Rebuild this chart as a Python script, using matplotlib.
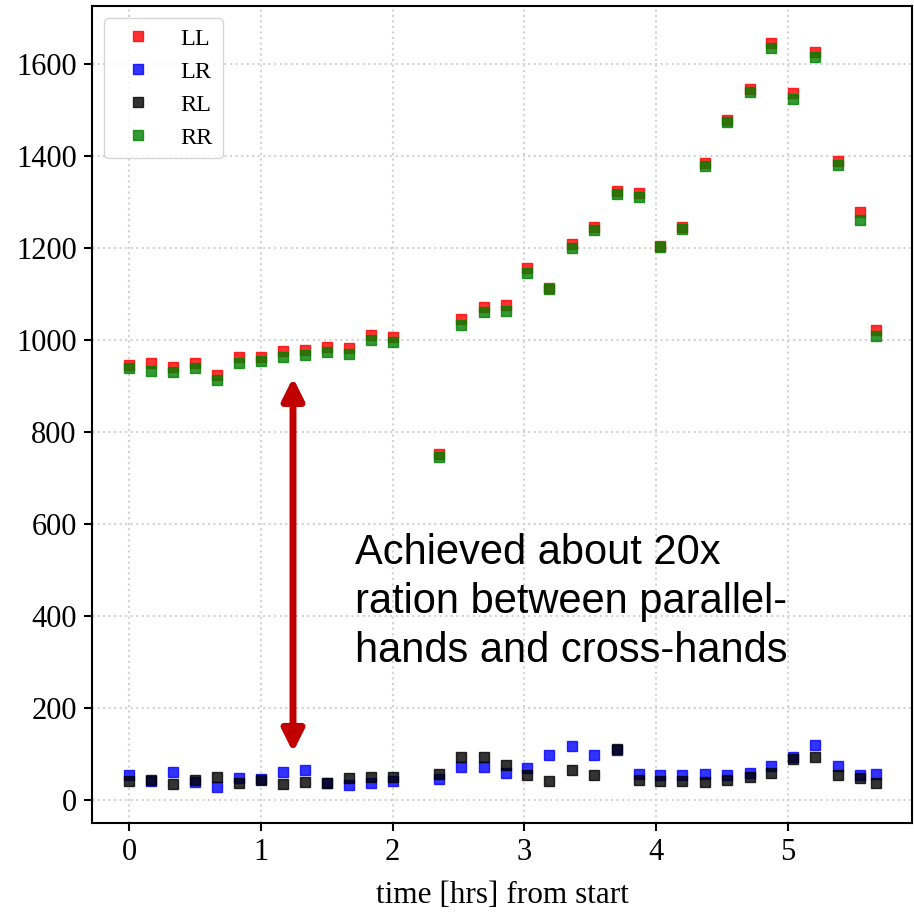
import numpy as np
import matplotlib
matplotlib.use('Agg')
import matplotlib.pyplot as plt

# scan times in hours from the start of the run
t_hrs = [0.0, 0.167, 0.333, 0.5, 0.667, 0.833, 1.0, 1.167, 1.333, 1.5, 1.667, 1.833, 2.0,
         2.35, 2.52, 2.69, 2.86, 3.02, 3.19, 3.36, 3.53, 3.70, 3.87, 4.03, 4.20, 4.37,
         4.54, 4.71, 4.87, 5.04, 5.21, 5.38, 5.55, 5.67]

# parallel hands
LL = [946, 949, 941, 949, 924, 964, 964, 975, 978, 984, 983, 1011, 1007,
      753, 1045, 1072, 1075, 1157, 1112, 1209, 1246, 1324, 1319, 1205, 1246, 1385,
      1478, 1546, 1646, 1537, 1625, 1390, 1278, 1022]
RR = [938, 933, 930, 938, 913, 951, 954, 964, 967, 973, 970, 1001, 996,
      745, 1033, 1060, 1064, 1146, 1110, 1199, 1238, 1317, 1311, 1203, 1242, 1379,
      1473, 1538, 1634, 1523, 1614, 1380, 1261, 1009]

# cross hands
LR = [54, 41, 60, 40, 29, 48, 45, 60, 65, 36, 32, 38, 42,
      45, 72, 72, 59, 70, 97, 118, 97, 109, 57, 55, 55, 57,
      54, 59, 75, 93, 119, 73, 54, 56]
RL = [41, 44, 34, 43, 51, 36, 44, 35, 40, 37, 47, 51, 51,
      56, 93, 93, 77, 54, 41, 66, 55, 110, 43, 41, 41, 39,
      43, 50, 59, 90, 94, 54, 47, 37]

plt.rcParams['font.family'] = ['Liberation Serif', 'DejaVu Serif']

fig = plt.figure(figsize=(9.14, 9.15), dpi=100)
ax = fig.add_axes([0.1007, 0.1005, 0.8971, 0.893])

ms = 6.5
ax.plot(t_hrs, LL, 's', color='r', ms=ms, alpha=0.8, label='LL')
ax.plot(t_hrs, LR, 's', color='b', ms=ms, alpha=0.8, label='LR')
ax.plot(t_hrs, RL, 's', color='k', ms=ms, alpha=0.8, label='RL')
ax.plot(t_hrs, RR, 's', color='g', ms=ms, alpha=0.8, label='RR')

ax.set_xlim(-0.283, 5.943)
ax.set_ylim(-50, 1726)
ax.set_xticks([0, 1, 2, 3, 4, 5])
ax.set_yticks([0, 200, 400, 600, 800, 1000, 1200, 1400, 1600])
ax.grid(True, ls=':', color='lightgray', lw=1.5)
ax.set_axisbelow(True)

ax.tick_params(direction='out', length=6, width=1.5, labelsize=22, pad=5)
for s in ax.spines.values():
    s.set_linewidth(1.5)

ax.set_xlabel('time [hrs] from start', fontsize=22.5, labelpad=10)
ax.legend(loc='upper left', fontsize=17.5, handletextpad=0.75, borderpad=0.4,
          labelspacing=0.45, borderaxespad=0.5)

# ratio arrow and note
ax.annotate('', xy=(1.243, 104), xytext=(1.243, 918),
            arrowprops=dict(arrowstyle='<|-|>,head_length=13,head_width=6.5',
                            mutation_scale=1, color='#c00000', lw=5,
                            shrinkA=0, shrinkB=0))
ax.text(1.714, 581, 'Achieved about 20x\nration between parallel-\nhands and cross-hands',
        fontsize=30, family='Liberation Sans', ha='left', va='top', linespacing=1.3)

fig.savefig('out.png', dpi=100)
